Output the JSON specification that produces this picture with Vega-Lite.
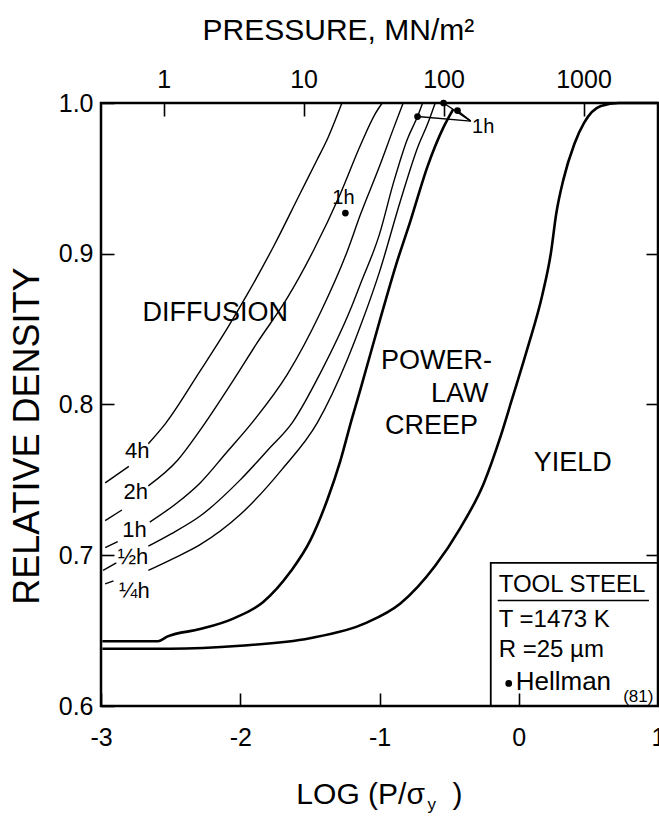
{
  "$schema": "https://vega.github.io/schema/vega-lite/v6.json",
  "width": 557,
  "height": 603,
  "autosize": {"type": "none"},
  "padding": {"left": 101, "top": 103, "right": 1, "bottom": 119},
  "background": "white",
  "config": {
    "view": {"stroke": "black", "strokeWidth": 2.5},
    "font": "Liberation Sans",
    "text": {"font": "Liberation Sans", "color": "black", "baseline": "middle"},
    "axis": {"domain": false, "grid": false, "labelFont": "Liberation Sans", "labelColor": "black", "tickColor": "black", "tickWidth": 1.6, "labelFontSize": 25, "labelFlush": false, "labelOverlap": false}
  },
  "datasets": {
    "curves": [
      {"seg": "4h a", "kind": "diffusion", "x": -2.97, "y": 0.748},
      {"seg": "4h a", "kind": "diffusion", "x": -2.8, "y": 0.759},
      {"seg": "4h b", "kind": "diffusion", "x": -2.66, "y": 0.774},
      {"seg": "4h b", "kind": "diffusion", "x": -2.54, "y": 0.787},
      {"seg": "4h b", "kind": "diffusion", "x": -2.29, "y": 0.822},
      {"seg": "4h b", "kind": "diffusion", "x": -2.09, "y": 0.851},
      {"seg": "4h b", "kind": "diffusion", "x": -1.95, "y": 0.873},
      {"seg": "4h b", "kind": "diffusion", "x": -1.76, "y": 0.905},
      {"seg": "4h b", "kind": "diffusion", "x": -1.57, "y": 0.940},
      {"seg": "4h b", "kind": "diffusion", "x": -1.45, "y": 0.962},
      {"seg": "4h b", "kind": "diffusion", "x": -1.37, "y": 0.977},
      {"seg": "4h b", "kind": "diffusion", "x": -1.27, "y": 1.0},
      {"seg": "2h a", "kind": "diffusion", "x": -2.97, "y": 0.723},
      {"seg": "2h a", "kind": "diffusion", "x": -2.85, "y": 0.730},
      {"seg": "2h b", "kind": "diffusion", "x": -2.66, "y": 0.746},
      {"seg": "2h b", "kind": "diffusion", "x": -2.45, "y": 0.763},
      {"seg": "2h b", "kind": "diffusion", "x": -2.288, "y": 0.783},
      {"seg": "2h b", "kind": "diffusion", "x": -2.05, "y": 0.816},
      {"seg": "2h b", "kind": "diffusion", "x": -1.878, "y": 0.841},
      {"seg": "2h b", "kind": "diffusion", "x": -1.66, "y": 0.871},
      {"seg": "2h b", "kind": "diffusion", "x": -1.475, "y": 0.902},
      {"seg": "2h b", "kind": "diffusion", "x": -1.28, "y": 0.940},
      {"seg": "2h b", "kind": "diffusion", "x": -1.137, "y": 0.972},
      {"seg": "2h b", "kind": "diffusion", "x": -1.03, "y": 0.993},
      {"seg": "2h b", "kind": "diffusion", "x": -0.98, "y": 1.0},
      {"seg": "1h a", "kind": "diffusion", "x": -2.97, "y": 0.705},
      {"seg": "1h a", "kind": "diffusion", "x": -2.88, "y": 0.709},
      {"seg": "1h b", "kind": "diffusion", "x": -2.65, "y": 0.722},
      {"seg": "1h b", "kind": "diffusion", "x": -2.45, "y": 0.735},
      {"seg": "1h b", "kind": "diffusion", "x": -2.288, "y": 0.748},
      {"seg": "1h b", "kind": "diffusion", "x": -2.1, "y": 0.768},
      {"seg": "1h b", "kind": "diffusion", "x": -1.906, "y": 0.789},
      {"seg": "1h b", "kind": "diffusion", "x": -1.662, "y": 0.820},
      {"seg": "1h b", "kind": "diffusion", "x": -1.424, "y": 0.861},
      {"seg": "1h b", "kind": "diffusion", "x": -1.23, "y": 0.902},
      {"seg": "1h b", "kind": "diffusion", "x": -1.137, "y": 0.926},
      {"seg": "1h b", "kind": "diffusion", "x": -1.0, "y": 0.958},
      {"seg": "1h b", "kind": "diffusion", "x": -0.9, "y": 0.983},
      {"seg": "1h b", "kind": "diffusion", "x": -0.83, "y": 1.0},
      {"seg": "h2 a", "kind": "diffusion", "x": -2.985, "y": 0.690},
      {"seg": "h2 a", "kind": "diffusion", "x": -2.89, "y": 0.695},
      {"seg": "h2 b", "kind": "diffusion", "x": -2.66, "y": 0.706},
      {"seg": "h2 b", "kind": "diffusion", "x": -2.5, "y": 0.714},
      {"seg": "h2 b", "kind": "diffusion", "x": -2.288, "y": 0.726},
      {"seg": "h2 b", "kind": "diffusion", "x": -2.0, "y": 0.750},
      {"seg": "h2 b", "kind": "diffusion", "x": -1.8, "y": 0.770},
      {"seg": "h2 b", "kind": "diffusion", "x": -1.626, "y": 0.788},
      {"seg": "h2 b", "kind": "diffusion", "x": -1.424, "y": 0.821},
      {"seg": "h2 b", "kind": "diffusion", "x": -1.209, "y": 0.863},
      {"seg": "h2 b", "kind": "diffusion", "x": -1.137, "y": 0.880},
      {"seg": "h2 b", "kind": "diffusion", "x": -1.0, "y": 0.913},
      {"seg": "h2 b", "kind": "diffusion", "x": -0.9, "y": 0.947},
      {"seg": "h2 b", "kind": "diffusion", "x": -0.8, "y": 0.976},
      {"seg": "h2 b", "kind": "diffusion", "x": -0.727, "y": 0.991},
      {"seg": "h2 b", "kind": "diffusion", "x": -0.69, "y": 1.0},
      {"seg": "h4 a", "kind": "diffusion", "x": -2.97, "y": 0.681},
      {"seg": "h4 a", "kind": "diffusion", "x": -2.91, "y": 0.683},
      {"seg": "h4 b", "kind": "diffusion", "x": -2.66, "y": 0.690},
      {"seg": "h4 b", "kind": "diffusion", "x": -2.5, "y": 0.697},
      {"seg": "h4 b", "kind": "diffusion", "x": -2.288, "y": 0.707},
      {"seg": "h4 b", "kind": "diffusion", "x": -2.0, "y": 0.727},
      {"seg": "h4 b", "kind": "diffusion", "x": -1.7, "y": 0.757},
      {"seg": "h4 b", "kind": "diffusion", "x": -1.446, "y": 0.788},
      {"seg": "h4 b", "kind": "diffusion", "x": -1.23, "y": 0.830},
      {"seg": "h4 b", "kind": "diffusion", "x": -1.137, "y": 0.852},
      {"seg": "h4 b", "kind": "diffusion", "x": -1.0, "y": 0.888},
      {"seg": "h4 b", "kind": "diffusion", "x": -0.85, "y": 0.935},
      {"seg": "h4 b", "kind": "diffusion", "x": -0.72, "y": 0.972},
      {"seg": "h4 b", "kind": "diffusion", "x": -0.655, "y": 0.986},
      {"seg": "h4 b", "kind": "diffusion", "x": -0.6, "y": 1.0},
      {"seg": "creep", "kind": "boundary", "x": -2.99, "y": 0.643},
      {"seg": "creep", "kind": "boundary", "x": -2.59, "y": 0.643},
      {"seg": "creep", "kind": "boundary", "x": -2.525, "y": 0.646},
      {"seg": "creep", "kind": "boundary", "x": -2.288, "y": 0.651},
      {"seg": "creep", "kind": "boundary", "x": -2.05, "y": 0.658},
      {"seg": "creep", "kind": "boundary", "x": -1.835, "y": 0.669},
      {"seg": "creep", "kind": "boundary", "x": -1.64, "y": 0.689},
      {"seg": "creep", "kind": "boundary", "x": -1.496, "y": 0.710},
      {"seg": "creep", "kind": "boundary", "x": -1.374, "y": 0.737},
      {"seg": "creep", "kind": "boundary", "x": -1.28, "y": 0.763},
      {"seg": "creep", "kind": "boundary", "x": -1.2, "y": 0.790},
      {"seg": "creep", "kind": "boundary", "x": -1.137, "y": 0.810},
      {"seg": "creep", "kind": "boundary", "x": -1.0, "y": 0.855},
      {"seg": "creep", "kind": "boundary", "x": -0.88, "y": 0.893},
      {"seg": "creep", "kind": "boundary", "x": -0.777, "y": 0.922},
      {"seg": "creep", "kind": "boundary", "x": -0.655, "y": 0.958},
      {"seg": "creep", "kind": "boundary", "x": -0.54, "y": 0.984},
      {"seg": "creep", "kind": "boundary", "x": -0.47, "y": 0.996},
      {"seg": "yield", "kind": "boundary", "x": -2.99, "y": 0.638},
      {"seg": "yield", "kind": "boundary", "x": -2.5, "y": 0.638},
      {"seg": "yield", "kind": "boundary", "x": -2.0, "y": 0.640},
      {"seg": "yield", "kind": "boundary", "x": -1.5, "y": 0.645},
      {"seg": "yield", "kind": "boundary", "x": -1.1, "y": 0.655},
      {"seg": "yield", "kind": "boundary", "x": -0.85, "y": 0.668},
      {"seg": "yield", "kind": "boundary", "x": -0.6, "y": 0.693},
      {"seg": "yield", "kind": "boundary", "x": -0.42, "y": 0.718},
      {"seg": "yield", "kind": "boundary", "x": -0.25, "y": 0.748},
      {"seg": "yield", "kind": "boundary", "x": -0.13, "y": 0.779},
      {"seg": "yield", "kind": "boundary", "x": -0.05, "y": 0.803},
      {"seg": "yield", "kind": "boundary", "x": 0.065, "y": 0.838},
      {"seg": "yield", "kind": "boundary", "x": 0.17, "y": 0.873},
      {"seg": "yield", "kind": "boundary", "x": 0.23, "y": 0.900},
      {"seg": "yield", "kind": "boundary", "x": 0.27, "y": 0.927},
      {"seg": "yield", "kind": "boundary", "x": 0.32, "y": 0.949},
      {"seg": "yield", "kind": "boundary", "x": 0.4, "y": 0.973},
      {"seg": "yield", "kind": "boundary", "x": 0.47, "y": 0.987},
      {"seg": "yield", "kind": "boundary", "x": 0.59, "y": 0.998},
      {"seg": "yield", "kind": "boundary", "x": 0.72, "y": 1.0},
      {"seg": "yield", "kind": "boundary", "x": 1.0, "y": 1.0}
    ],
    "points": [
      {"x": -1.245, "y": 0.927},
      {"x": -0.54, "y": 1.0},
      {"x": -0.727, "y": 0.991},
      {"x": -0.44, "y": 0.995},
      {"x": -0.072, "y": 0.615}
    ],
    "rules": [
      {"x": -0.345, "y": 0.988, "x2": -0.54, "y2": 1.0},
      {"x": -0.345, "y": 0.988, "x2": -0.727, "y2": 0.991},
      {"x": -0.345, "y": 0.988, "x2": -0.44, "y2": 0.995},
      {"x": -0.151, "y": 0.670, "x2": 0.935, "y2": 0.670}
    ],
    "box": [
      {"x": -0.201, "x2": 1.0, "y": 0.6, "y2": 0.695}
    ],
    "texts": [
      {"t": "DIFFUSION", "x": -2.18, "y": 0.861, "k": "region"},
      {"t": "POWER-", "x": -0.59, "y": 0.829, "k": "region"},
      {"t": "LAW", "x": -0.424, "y": 0.807, "k": "region"},
      {"t": "CREEP", "x": -0.626, "y": 0.786, "k": "region"},
      {"t": "YIELD", "x": 0.388, "y": 0.761, "k": "region"},
      {"t": "4h", "x": -2.74, "y": 0.769, "k": "curve"},
      {"t": "2h", "x": -2.75, "y": 0.742, "k": "curve"},
      {"t": "1h", "x": -2.76, "y": 0.717, "k": "curve"},
      {"t": "½h", "x": -2.77, "y": 0.699, "k": "curve"},
      {"t": "¼h", "x": -2.76, "y": 0.676, "k": "curve"},
      {"t": "1h", "x": -1.259, "y": 0.937, "k": "note"},
      {"t": "1h", "x": -0.255, "y": 0.984, "k": "note"},
      {"t": "PRESSURE, MN/m²", "x": -1.295, "y": 1.048, "k": "title"},
      {"t": "TOOL STEEL", "x": -0.144, "y": 0.680, "k": "legend"},
      {"t": "T =1473 K", "x": -0.144, "y": 0.657, "k": "legend"},
      {"t": "R =25 µm", "x": -0.144, "y": 0.637, "k": "legend"},
      {"t": "Hellman", "x": -0.022, "y": 0.616, "k": "legend2"},
      {"t": "(81)", "x": 0.75, "y": 0.606, "k": "sub"},
      {"t": "LOG (P/σ", "x": -1.597, "y": 0.541, "k": "xtitle"},
      {"t": "y", "x": -0.655, "y": 0.534, "k": "sub"},
      {"t": ")", "x": -0.475, "y": 0.541, "k": "xtitle"},
      {"t": "RELATIVE DENSITY", "x": -3.525, "y": 0.779, "k": "ytitle"}
    ]
  },
  "layer": [
    {
      "data": {"name": "curves"},
      "transform": [{"filter": "datum.kind === 'diffusion'"}],
      "mark": {"type": "line", "color": "black", "strokeWidth": 1.4, "interpolate": "monotone"},
      "encoding": {
        "x": {"field": "x", "type": "quantitative", "scale": {"domain": [-3, 1], "nice": false, "zero": false},
              "axis": {"orient": "bottom", "values": [-3, -2, -1, 0, 1], "tickSize": -13, "labelPadding": 32, "title": null, "labelExpr": "'' + datum.value"}},
        "y": {"field": "y", "type": "quantitative", "scale": {"domain": [0.6, 1.0], "nice": false, "zero": false},
              "axis": {"orient": "left", "values": [0.6, 0.7, 0.8, 0.9, 1.0], "tickSize": -13, "labelPadding": 21, "title": null, "labelExpr": "format(datum.value, '.1f')"}},
        "detail": {"field": "seg"}
      }
    },
    {
      "data": {"name": "curves"},
      "transform": [{"filter": "datum.kind === 'boundary'"}],
      "mark": {"type": "line", "color": "black", "strokeWidth": 2.6, "interpolate": "monotone"},
      "encoding": {
        "x": {"field": "x", "type": "quantitative", "scale": {"domain": [-3, 1], "nice": false, "zero": false},
              "axis": {"orient": "top", "values": [-2.55, -1.545, -0.54, 0.465], "tickSize": -13, "labelPadding": 24, "title": null,
                       "labelExpr": "datum.value < -2 ? '1' : datum.value < -1 ? '10' : datum.value < 0 ? '100' : '1000'"}},
        "y": {"field": "y", "type": "quantitative", "scale": {"domain": [0.6, 1.0], "nice": false, "zero": false},
              "axis": {"orient": "right", "values": [0.7, 0.8, 0.9], "tickSize": -12, "labels": false, "title": null}},
        "detail": {"field": "seg"}
      }
    },
    {
      "data": {"name": "rules"},
      "mark": {"type": "rule", "color": "black", "strokeWidth": 1.4},
      "encoding": {
        "x": {"field": "x", "type": "quantitative", "axis": null},
        "y": {"field": "y", "type": "quantitative", "axis": null},
        "x2": {"field": "x2"},
        "y2": {"field": "y2"}
      }
    },
    {
      "data": {"name": "box"},
      "mark": {"type": "rect", "fillOpacity": 0, "stroke": "black", "strokeWidth": 1.8},
      "encoding": {
        "x": {"field": "x", "type": "quantitative", "axis": null},
        "x2": {"field": "x2"},
        "y": {"field": "y", "type": "quantitative", "axis": null},
        "y2": {"field": "y2"}
      }
    },
    {
      "data": {"name": "points"},
      "mark": {"type": "point", "filled": true, "color": "black", "size": 45, "opacity": 1},
      "encoding": {
        "x": {"field": "x", "type": "quantitative", "axis": null},
        "y": {"field": "y", "type": "quantitative", "axis": null}
      }
    },
    {
      "data": {"name": "texts"},
      "transform": [{"filter": "datum.k === 'region'"}],
      "mark": {"type": "text", "align": "center", "fontSize": 27},
      "encoding": {
        "x": {"field": "x", "type": "quantitative", "axis": null},
        "y": {"field": "y", "type": "quantitative", "axis": null},
        "text": {"field": "t"}
      }
    },
    {
      "data": {"name": "texts"},
      "transform": [{"filter": "datum.k === 'curve'"}],
      "mark": {"type": "text", "align": "center", "fontSize": 22},
      "encoding": {
        "x": {"field": "x", "type": "quantitative", "axis": null},
        "y": {"field": "y", "type": "quantitative", "axis": null},
        "text": {"field": "t"}
      }
    },
    {
      "data": {"name": "texts"},
      "transform": [{"filter": "datum.k === 'note'"}],
      "mark": {"type": "text", "align": "center", "fontSize": 20},
      "encoding": {
        "x": {"field": "x", "type": "quantitative", "axis": null},
        "y": {"field": "y", "type": "quantitative", "axis": null},
        "text": {"field": "t"}
      }
    },
    {
      "data": {"name": "texts"},
      "transform": [{"filter": "datum.k === 'title'"}],
      "mark": {"type": "text", "align": "center", "fontSize": 30},
      "encoding": {
        "x": {"field": "x", "type": "quantitative", "axis": null},
        "y": {"field": "y", "type": "quantitative", "axis": null},
        "text": {"field": "t"}
      }
    },
    {
      "data": {"name": "texts"},
      "transform": [{"filter": "datum.k === 'legend'"}],
      "mark": {"type": "text", "align": "left", "fontSize": 24},
      "encoding": {
        "x": {"field": "x", "type": "quantitative", "axis": null},
        "y": {"field": "y", "type": "quantitative", "axis": null},
        "text": {"field": "t"}
      }
    },
    {
      "data": {"name": "texts"},
      "transform": [{"filter": "datum.k === 'legend2'"}],
      "mark": {"type": "text", "align": "left", "fontSize": 26},
      "encoding": {
        "x": {"field": "x", "type": "quantitative", "axis": null},
        "y": {"field": "y", "type": "quantitative", "axis": null},
        "text": {"field": "t"}
      }
    },
    {
      "data": {"name": "texts"},
      "transform": [{"filter": "datum.k === 'sub'"}],
      "mark": {"type": "text", "align": "left", "fontSize": 17},
      "encoding": {
        "x": {"field": "x", "type": "quantitative", "axis": null},
        "y": {"field": "y", "type": "quantitative", "axis": null},
        "text": {"field": "t"}
      }
    },
    {
      "data": {"name": "texts"},
      "transform": [{"filter": "datum.k === 'xtitle'"}],
      "mark": {"type": "text", "align": "left", "fontSize": 30},
      "encoding": {
        "x": {"field": "x", "type": "quantitative", "axis": null},
        "y": {"field": "y", "type": "quantitative", "axis": null},
        "text": {"field": "t"}
      }
    },
    {
      "data": {"name": "texts"},
      "transform": [{"filter": "datum.k === 'ytitle'"}],
      "mark": {"type": "text", "align": "center", "angle": 270, "fontSize": 36},
      "encoding": {
        "x": {"field": "x", "type": "quantitative", "axis": null},
        "y": {"field": "y", "type": "quantitative", "axis": null},
        "text": {"field": "t"}
      }
    }
  ],
  "resolve": {"axis": {"x": "independent", "y": "independent"}}
}
